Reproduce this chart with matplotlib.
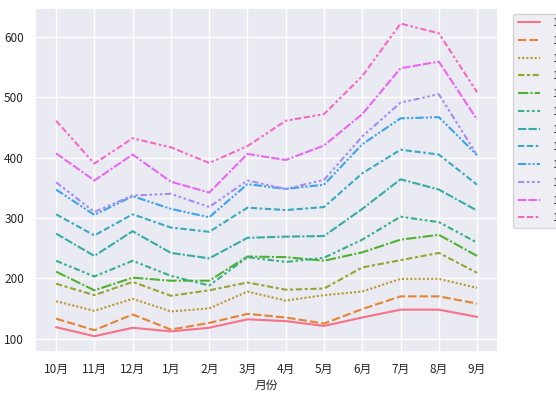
import matplotlib
matplotlib.use("Agg")
import matplotlib.pyplot as plt
import seaborn as sns
import pandas as pd

months = ["10月", "11月", "12月", "1月", "2月", "3月", "4月", "5月", "6月", "7月", "8月", "9月"]
years = [1949, 1950, 1951, 1952, 1953, 1954, 1955, 1956, 1957, 1958, 1959, 1960]
passengers = {
    1949: [119, 104, 118, 112, 118, 132, 129, 121, 135, 148, 148, 136],
    1950: [133, 114, 140, 115, 126, 141, 135, 125, 149, 170, 170, 158],
    1951: [162, 146, 166, 145, 150, 178, 163, 172, 178, 199, 199, 184],
    1952: [191, 172, 194, 171, 180, 193, 181, 183, 218, 230, 242, 209],
    1953: [211, 180, 201, 196, 196, 236, 235, 229, 243, 264, 272, 237],
    1954: [229, 203, 229, 204, 188, 235, 227, 234, 264, 302, 293, 259],
    1955: [274, 237, 278, 242, 233, 267, 269, 270, 315, 364, 347, 312],
    1956: [306, 271, 306, 284, 277, 317, 313, 318, 374, 413, 405, 355],
    1957: [347, 305, 336, 315, 301, 356, 348, 355, 422, 465, 467, 404],
    1958: [359, 310, 337, 340, 318, 362, 348, 363, 435, 491, 505, 404],
    1959: [407, 362, 405, 360, 342, 406, 396, 420, 472, 548, 559, 463],
    1960: [461, 390, 432, 417, 391, 419, 461, 472, 535, 622, 606, 508],
}

rows = []
for y in years:
    for m, v in zip(months, passengers[y]):
        rows.append({"月份": m, "year": y, "passengers": v})
df = pd.DataFrame(rows)

sns.set_theme(style="darkgrid")
plt.rcParams['font.family'] = ['Noto Sans CJK SC', 'DejaVu Sans']
plt.rcParams['axes.unicode_minus'] = False

fig = plt.figure(figsize=(5.56, 3.98), dpi=100)
ax = fig.add_axes([0.063, 0.116, 0.833, 0.864])
sns.lineplot(data=df, x="月份", y="passengers", hue="year", style="year",
             palette=sns.husl_palette(12), ax=ax, linewidth=1.5)
ax.set_ylabel("")
ax.set_xlabel("月份", fontsize=8.5, labelpad=2)
ax.tick_params(labelsize=8.5, pad=2)
ax.legend(loc="upper left", bbox_to_anchor=(1.02, 1.0), fontsize=8.2,
          handletextpad=1.1, labelspacing=0.68)
fig.savefig("out.png", dpi=100)
